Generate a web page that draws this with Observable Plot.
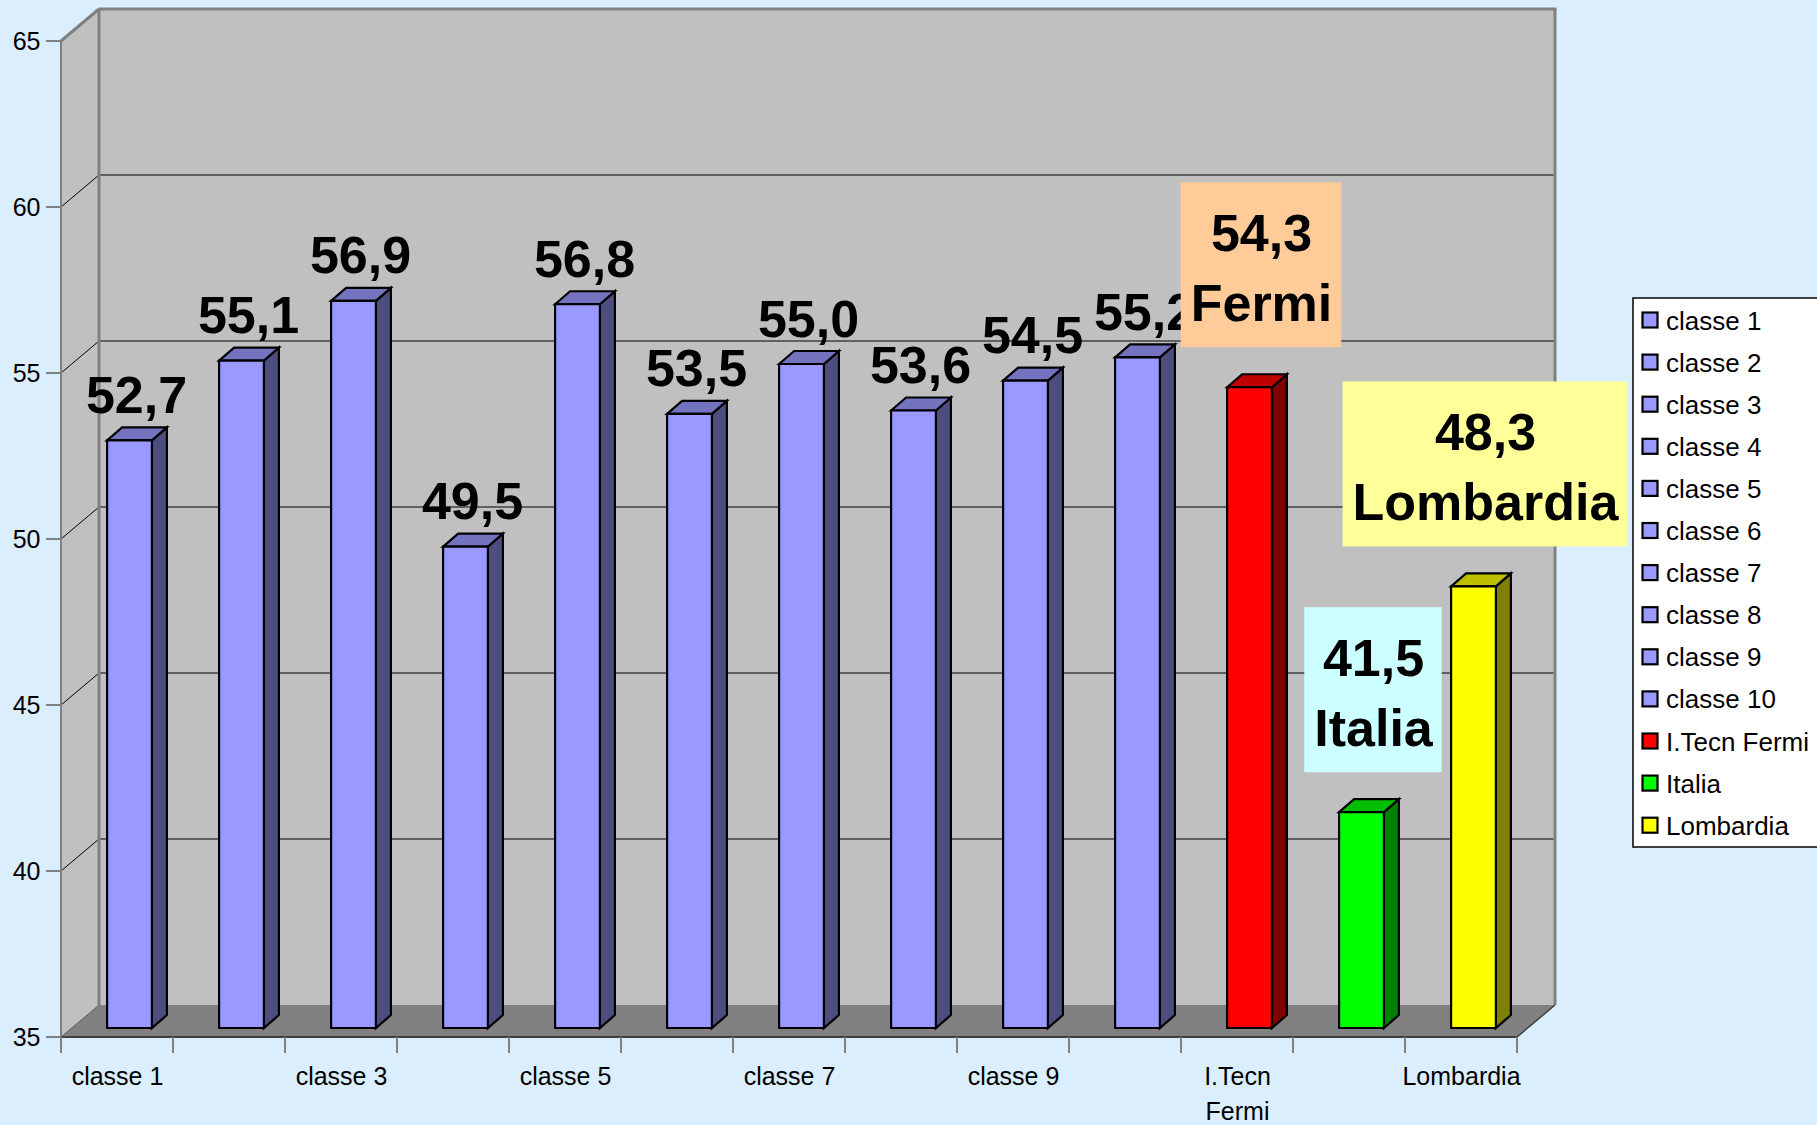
<!DOCTYPE html>
<html>
<head>
<meta charset="utf-8">
<script src="https://cdn.jsdelivr.net/npm/d3@7"></script>
<script src="https://cdn.jsdelivr.net/npm/@observablehq/plot@0.6"></script>
<style>
  html, body { margin: 0; padding: 0; background: #DAEEFD; color: #000; }
  #wrap { position: relative; width: 1817px; height: 1125px; overflow: hidden; font-family: "Liberation Sans", Arial, sans-serif; }
  #wrap > svg { position: absolute; left: 0; top: 0; }
  #legend { pointer-events: none; }
</style>
</head>
<body>
<div id="wrap"></div>
<script>
// ---------- data ----------
const categories = ["classe 1","classe 2","classe 3","classe 4","classe 5","classe 6","classe 7","classe 8","classe 9","classe 10","I.Tecn Fermi","Italia","Lombardia"];
const values = [52.7, 55.1, 56.9, 49.5, 56.8, 53.5, 55.0, 53.6, 54.5, 55.2, 54.3, 41.5, 48.3];
const calloutCategories = ["I.Tecn Fermi","Italia","Lombardia"];
const calloutNames = ["Fermi","Italia","Lombardia"];
const yTicks = [35, 40, 45, 50, 55, 60, 65];
const xTickCategories = ["classe 1","classe 3","classe 5","classe 7","classe 9","I.Tecn Fermi","Lombardia"];
const xTickText = ["classe 1","classe 3","classe 5","classe 7","classe 9","I.Tecn\nFermi","Lombardia"];
const legendLabels = categories;

// ---------- styles ----------
const barColors = ["#9999FF","#9999FF","#9999FF","#9999FF","#9999FF","#9999FF","#9999FF","#9999FF","#9999FF","#9999FF","#FF0000","#00FF00","#FFFF00"];
const calloutFills = ["#FFCC99","#CCFFFF","#FFFF99"];
const FONT = "'Liberation Sans', Arial, sans-serif";
const DEPTH_X = 38, DEPTH_Y = -32;     // 3D depth of the chart box
const BAR_DX = 12.5, BAR_DY = -9;     // bar front face offset into the box
const BAR_SX = 15, BAR_SY = -13;      // bar depth
const BAR_W = 0.4;                    // fraction of band

const fmt = d3.formatLocale({decimal: ",", thousands: ".", grouping: [3], currency: ["", "€"]}).format(".1f");
const shade = (c, k) => { const r = d3.rgb(c); return d3.rgb(r.r * k, r.g * k, r.b * k).formatHex(); };

const rows = categories.map((c, i) => ({category: c, value: values[i], color: barColors[i]}));
const plainRows = rows.filter(d => !calloutCategories.includes(d.category));
const calloutRows = calloutCategories.map((c, i) => ({
  category: c,
  value: values[categories.indexOf(c)],
  name: calloutNames[i],
  fill: calloutFills[i]
}));

const poly = (g, pts, fill, stroke, sw) =>
  g.append("polygon").attr("points", pts.map(p => p.join(",")).join(" "))
   .attr("fill", fill).attr("stroke", stroke ?? "none").attr("stroke-width", sw ?? 0)
   .attr("stroke-linejoin", "miter");
const line = (g, x1, y1, x2, y2, stroke, sw) =>
  g.append("line").attr("x1", x1).attr("y1", y1).attr("x2", x2).attr("y2", y2)
   .attr("stroke", stroke).attr("stroke-width", sw);

function bandInfo(x) {
  const x0 = x(categories[0]);
  const bw = x(categories[1]) - x0;
  return {x0, bw, x1: x(categories[categories.length - 1]) + bw};
}

// walls, floor, gridlines, ticks
function renderWalls(I, scales) {
  const {x, y} = scales;
  const {x0, x1, bw} = bandInfo(x);
  const yb = y(yTicks[0]), yt = y(yTicks[yTicks.length - 1]);
  const g = d3.create("svg:g");
  // back wall
  poly(g, [[x0 + DEPTH_X, yt + DEPTH_Y], [x1 + DEPTH_X, yt + DEPTH_Y], [x1 + DEPTH_X, yb + DEPTH_Y], [x0 + DEPTH_X, yb + DEPTH_Y]], "#C0C0C0");
  // side wall
  poly(g, [[x0, yt], [x0 + DEPTH_X, yt + DEPTH_Y], [x0 + DEPTH_X, yb + DEPTH_Y], [x0, yb]], "#C0C0C0");
  // floor
  poly(g, [[x0, yb], [x1, yb], [x1 + DEPTH_X, yb + DEPTH_Y], [x0 + DEPTH_X, yb + DEPTH_Y]], "#808080");
  // gridlines
  for (const t of yTicks.slice(1, -1)) {
    const yy = y(t);
    line(g, x0 + DEPTH_X, yy + DEPTH_Y, x1 + DEPTH_X, yy + DEPTH_Y, "#000", 1);
    line(g, x0, yy, x0 + DEPTH_X, yy + DEPTH_Y, "#000", 1);
  }
  // borders
  const gray = "#808080";
  line(g, x0 + DEPTH_X, yt + DEPTH_Y, x1 + DEPTH_X + 1.5, yt + DEPTH_Y, gray, 3);
  line(g, x1 + DEPTH_X, yt + DEPTH_Y, x1 + DEPTH_X, yb + DEPTH_Y, gray, 3);
  line(g, x0 + DEPTH_X, yt + DEPTH_Y, x0 + DEPTH_X, yb + DEPTH_Y, gray, 3);
  line(g, x0, yt, x0 + DEPTH_X, yt + DEPTH_Y, gray, 3);
  line(g, x0, yt, x0, yb, gray, 2);
  line(g, x0, yb, x1, yb, "#404040", 2);
  line(g, x1, yb, x1 + DEPTH_X, yb + DEPTH_Y, "#404040", 1.5);
  line(g, x0, yb, x0 + DEPTH_X, yb + DEPTH_Y, "#606060", 1);
  // y ticks
  for (const t of yTicks) line(g, x0 - 15, y(t), x0, y(t), gray, 2);
  // x ticks at band boundaries
  for (let i = 0; i <= categories.length; i++) {
    const xx = x0 + i * bw;
    line(g, xx, yb, xx, yb + 16, gray, 2);
  }
  return g.node();
}

function renderBars(I, scales) {
  const {x, y} = scales;
  const {bw} = bandInfo(x);
  const g = d3.create("svg:g").attr("stroke-linejoin", "miter");
  for (const i of I) {
    const d = rows[i];
    const w = bw * BAR_W;
    const fx0 = x(d.category) + (bw - w) / 2 + BAR_DX, fx1 = fx0 + w;
    const fyb = y(yTicks[0]) + BAR_DY, fyt = y(d.value) + BAR_DY;
    poly(g, [[fx1, fyt], [fx1 + BAR_SX, fyt + BAR_SY], [fx1 + BAR_SX, fyb + BAR_SY], [fx1, fyb]], shade(d.color, 0.5), "#000", 2.2);
    poly(g, [[fx0, fyt], [fx0 + BAR_SX, fyt + BAR_SY], [fx1 + BAR_SX, fyt + BAR_SY], [fx1, fyt]], shade(d.color, 0.75), "#000", 2.2);
    poly(g, [[fx0, fyt], [fx1, fyt], [fx1, fyb], [fx0, fyb]], d.color, "#000", 2.2);
  }
  return g.node();
}

const canvas = document.createElement("canvas").getContext("2d");
function textWidth(s, size) { canvas.font = `bold ${size}px ${FONT}`; return canvas.measureText(s).width; }

const CALLOUT_DX = 24, CALLOUT_GAP = 49, CALLOUT_H = 165, CALLOUT_FONT = 52;
function renderBoxes(I, scales) {
  const {x, y} = scales;
  const {bw} = bandInfo(x);
  const g = d3.create("svg:g");
  for (const i of I) {
    const d = calloutRows[i];
    const cx = x(d.category) + bw / 2 + CALLOUT_DX;
    const bottom = y(d.value) - CALLOUT_GAP;
    const w = Math.max(textWidth(fmt(d.value), CALLOUT_FONT), textWidth(d.name, CALLOUT_FONT)) + 19;
    g.append("rect").attr("x", cx - w / 2).attr("y", bottom - CALLOUT_H)
      .attr("width", w).attr("height", CALLOUT_H).attr("fill", d.fill);
  }
  return g.node();
}

const plot = Plot.plot({
  width: 1817,
  height: 1125,
  marginLeft: 60,
  marginRight: 299,
  marginTop: 41,
  marginBottom: 88,
  style: {background: "transparent", fontFamily: FONT, overflow: "visible"},
  x: {type: "band", domain: categories, paddingInner: 0, paddingOuter: 0, axis: null},
  y: {domain: [yTicks[0], yTicks[yTicks.length - 1]], axis: null},
  marks: [
    Plot.frame({stroke: "none", render: renderWalls}),
    Plot.rect(rows, {x: "category", y1: yTicks[0], y2: "value", render: renderBars}),
    Plot.text(plainRows, {
      x: "category", y: "value", text: d => fmt(d.value),
      dx: 19, dy: -37, lineAnchor: "bottom", textAnchor: "middle",
      fontSize: 52, fontWeight: "bold", fill: "#000"
    }),
    Plot.rect(calloutRows, {x: "category", y1: "value", y2: "value", render: renderBoxes}),
    Plot.text(calloutRows, {
      x: "category", y: "value", text: d => fmt(d.value) + "\n" + d.name,
      dx: CALLOUT_DX, dy: -CALLOUT_GAP - 26.5, lineAnchor: "bottom", lineHeight: 70 / 52,
      textAnchor: "middle", fontSize: CALLOUT_FONT, fontWeight: "bold", fill: "#000"
    }),
    Plot.text(yTicks, {
      y: d => d, text: d => String(d), frameAnchor: "left", dx: -20,
      textAnchor: "end", fontSize: 25, fill: "#000"
    }),
    Plot.text(xTickCategories, {
      x: d => d, text: (d, i) => xTickText[i], frameAnchor: "bottom",
      lineAnchor: "top", lineHeight: 1.4, dy: 23, textAnchor: "middle",
      fontSize: 25, fill: "#000"
    })
  ]
});

const wrap = document.getElementById("wrap");
wrap.appendChild(plot);

// ---------- legend ----------
const legend = d3.select(wrap).append("svg").attr("id", "legend")
  .attr("width", 1817).attr("height", 1125).style("font-family", FONT);
const LX = 1633, LY = 298, LH = 549, STEP = 42.1;
legend.append("rect").attr("x", LX).attr("y", LY).attr("width", 220).attr("height", LH)
  .attr("fill", "#fff").attr("stroke", "#000").attr("stroke-width", 1.5);
legendLabels.forEach((lab, i) => {
  legend.append("rect").attr("x", LX + 9.5).attr("y", LY + 14.5 + i * STEP)
    .attr("width", 15).attr("height", 15).attr("fill", barColors[i])
    .attr("stroke", "#000").attr("stroke-width", 2.2);
  legend.append("text").attr("x", LX + 33).attr("y", LY + 31.5 + i * STEP)
    .attr("font-size", 26).attr("fill", "#000").text(lab);
});
</script>
</body>
</html>
